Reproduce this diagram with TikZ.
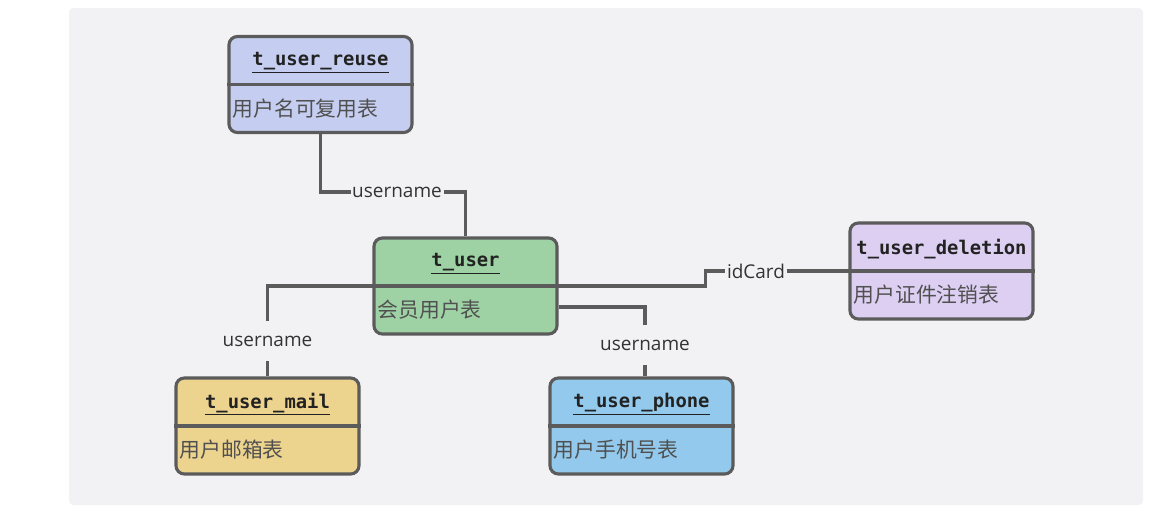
\documentclass[tikz,border=0pt]{standalone}
\usepackage{fontspec}
\setmainfont{Open Sans}
\setmonofont{DejaVu Sans Mono}
\newfontfamily\cjk{Noto Sans CJK SC}
\usepackage{tikz}
\usetikzlibrary{calc}
\usetikzlibrary{positioning}
\definecolor{bggray}{RGB}{242,242,244}
\definecolor{edgegray}{RGB}{91,91,91}
\definecolor{labelgray}{RGB}{51,51,51}
\definecolor{titlegray}{RGB}{34,34,34}
\definecolor{descgray}{RGB}{80,80,80}
\definecolor{reusecol}{RGB}{197,206,240}
\definecolor{usercol}{RGB}{158,210,165}
\definecolor{delcol}{RGB}{220,207,242}
\definecolor{mailcol}{RGB}{236,211,142}
\definecolor{phonecol}{RGB}{146,201,236}
\tikzset{
  tbl/.style={draw=edgegray, line width=2.2pt, rounded corners=6pt, minimum width=4.575cm, minimum height=2.4cm, inner sep=0pt},
  link/.style={draw=edgegray, line width=2.2pt},
  lbl/.style={fill=bggray, inner xsep=1pt, inner ysep=0pt, minimum height=28pt, text=labelgray, font=\fontsize{13.5}{16}\selectfont},
  ttl/.style={font=\fontsize{13.4}{16}\selectfont\ttfamily\bfseries, text=titlegray, inner sep=0pt},
  dsc/.style={font=\fontsize{14.8}{17}\selectfont\cjk, text=descgray, anchor=west, inner sep=0pt}
}
\newcommand{\tablebox}[6]{
  \node[tbl, fill=#6] (#1) at (#2,#3) {};
  \draw[link] (#1.west) -- (#1.east);
  \node[ttl] (#1-title) at ($(#1.center)+(0,-22)$) {#4};
  \node[dsc] (#1-desc) at ($(#1.west)+(5,24)$) {#5};
}
\begin{document}
\begin{tikzpicture}[x=0.025cm, y=-0.025cm]
    \useasboundingbox (0,0) rectangle (1173,526);
    \fill[bggray, rounded corners=3pt] (69,8) rectangle (1143,505);

    % link labels
    \node[lbl] (lab1) at (397,192) {username};
    \node[lbl] (lab2) at (267.5,341) {username};
    \node[lbl] (lab3) at (645,345) {username};
    \node[lbl] (lab4) at (756,271) {idCard};

    % tables
    \tablebox{reuse}{320.5}{84.5}{\underline{t\_user\_reuse}}{用户名可复用表}{reusecol}
    \tablebox{user}{465.5}{286}{\underline{t\_user}}{会员用户表}{usercol}
    \tablebox{deletion}{941.5}{271}{t\_user\_deletion}{用户证件注销表}{delcol}
    \tablebox{mail}{267.5}{426}{\underline{t\_user\_mail}}{用户邮箱表}{mailcol}
    \tablebox{phone}{641.5}{426}{\underline{t\_user\_phone}}{用户手机号表}{phonecol}

    % links
    \draw[link] (reuse.south) |- (lab1.west);
    \draw[link] (lab1.east) -| (user.north);
    \draw[link] (user.west) -| (lab2.north);
    \draw[link] (lab2.south) -- (mail.north);
    \draw[link] (user.east) -- ++(147,0) |- (lab4.west);
    \draw[link] (lab4.east) -- (deletion.west);
    \draw[link] ($(user.east)+(0,21)$) -| (lab3.north);
    \draw[link] (lab3.south) -- (lab3.south |- phone.north);
\end{tikzpicture}
\end{document}
